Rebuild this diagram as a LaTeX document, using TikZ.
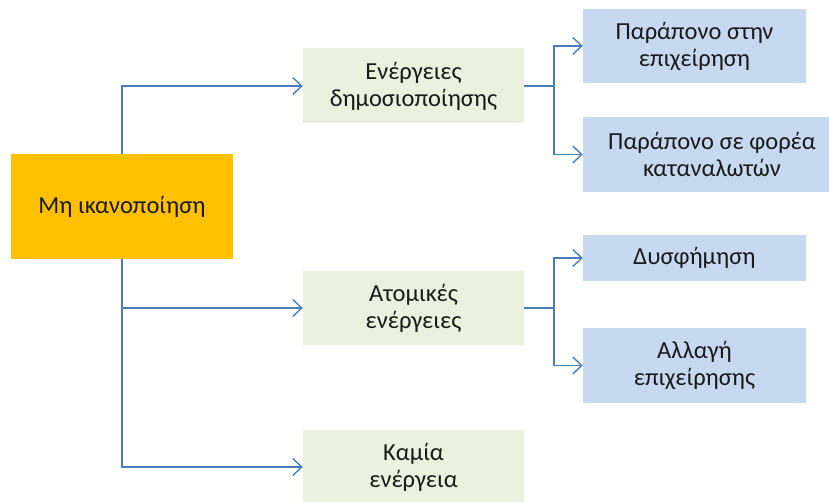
\documentclass[tikz,border=0pt]{standalone}
\usepackage{fontspec}
\setmainfont{Carlito}
\usetikzlibrary{arrows.meta}
\definecolor{rootfill}{HTML}{FFC000}
\definecolor{midfill}{HTML}{EBF1DE}
\definecolor{leaffill}{HTML}{C6D9F1}
\definecolor{linkblue}{HTML}{4A7EBB}
\definecolor{txt}{HTML}{1A1A1A}
\tikzset{
  box/.style={rectangle, inner sep=0pt, align=center, text=txt,
    font=\fontsize{24.5}{27}\selectfont},
  rootbox/.style={box, fill=rootfill, minimum width=222pt, minimum height=105pt},
  midbox/.style={box, fill=midfill, minimum width=221pt, minimum height=75pt},
  leafbox/.style={box, fill=leaffill, minimum width=223pt},
  conn/.style={draw=linkblue, line width=1.4pt,
    -{Straight Barb[length=9pt, width=17pt, line width=1.4pt]}},
}
\begin{document}
\begin{tikzpicture}[x=1pt, y=-1pt]
  \useasboundingbox (0,0) rectangle (829,502);
  \begin{scope}
    \clip (0,0) rectangle (829,502);
    % root
    \node[rootbox] (root) at (122,206.5) {Μη ικανοποίηση};
    % second level
    \node[midbox] (pub) at (413.5,86) {Ενέργειες\\δημοσιοποίησης};
    \node[midbox, minimum height=74pt] (ind) at (413.5,308) {Ατομικές\\ενέργειες};
    \node[midbox, minimum height=74pt] (none) at (413.5,467) {Καμία\\ενέργεια};
    % leaves
    \node[leafbox, minimum height=74pt] (l1) at (694.5,46) {Παράπονο στην\\επιχείρηση};
    \node[leafbox, minimum width=258pt, minimum height=75pt] (l2) at (712,154.5) {Παράπονο σε φορέα\\καταναλωτών};
    \node[leafbox, minimum height=46pt] (l3) at (694.5,258) {Δυσφήμηση};
    \node[leafbox, minimum height=75pt] (l4) at (694.5,365.5) {Αλλαγή\\επιχείρησης};
    % junction points of the right-hand forks
    \coordinate (j1) at (554,86);
    \coordinate (j2) at (554,308);
    % connectors
    \draw[conn] (root.north) |- (pub.west);
    \draw[conn] (root.south) |- (ind.west);
    \draw[conn] (root.south) |- (none.west);
    \draw[conn] (pub.east) -- (j1) |- (l1.west);
    \draw[conn] (j1) |- (l2.west);
    \draw[conn] (ind.east) -- (j2) |- (l3.west);
    \draw[conn] (j2) |- (l4.west);
  \end{scope}
\end{tikzpicture}
\end{document}
